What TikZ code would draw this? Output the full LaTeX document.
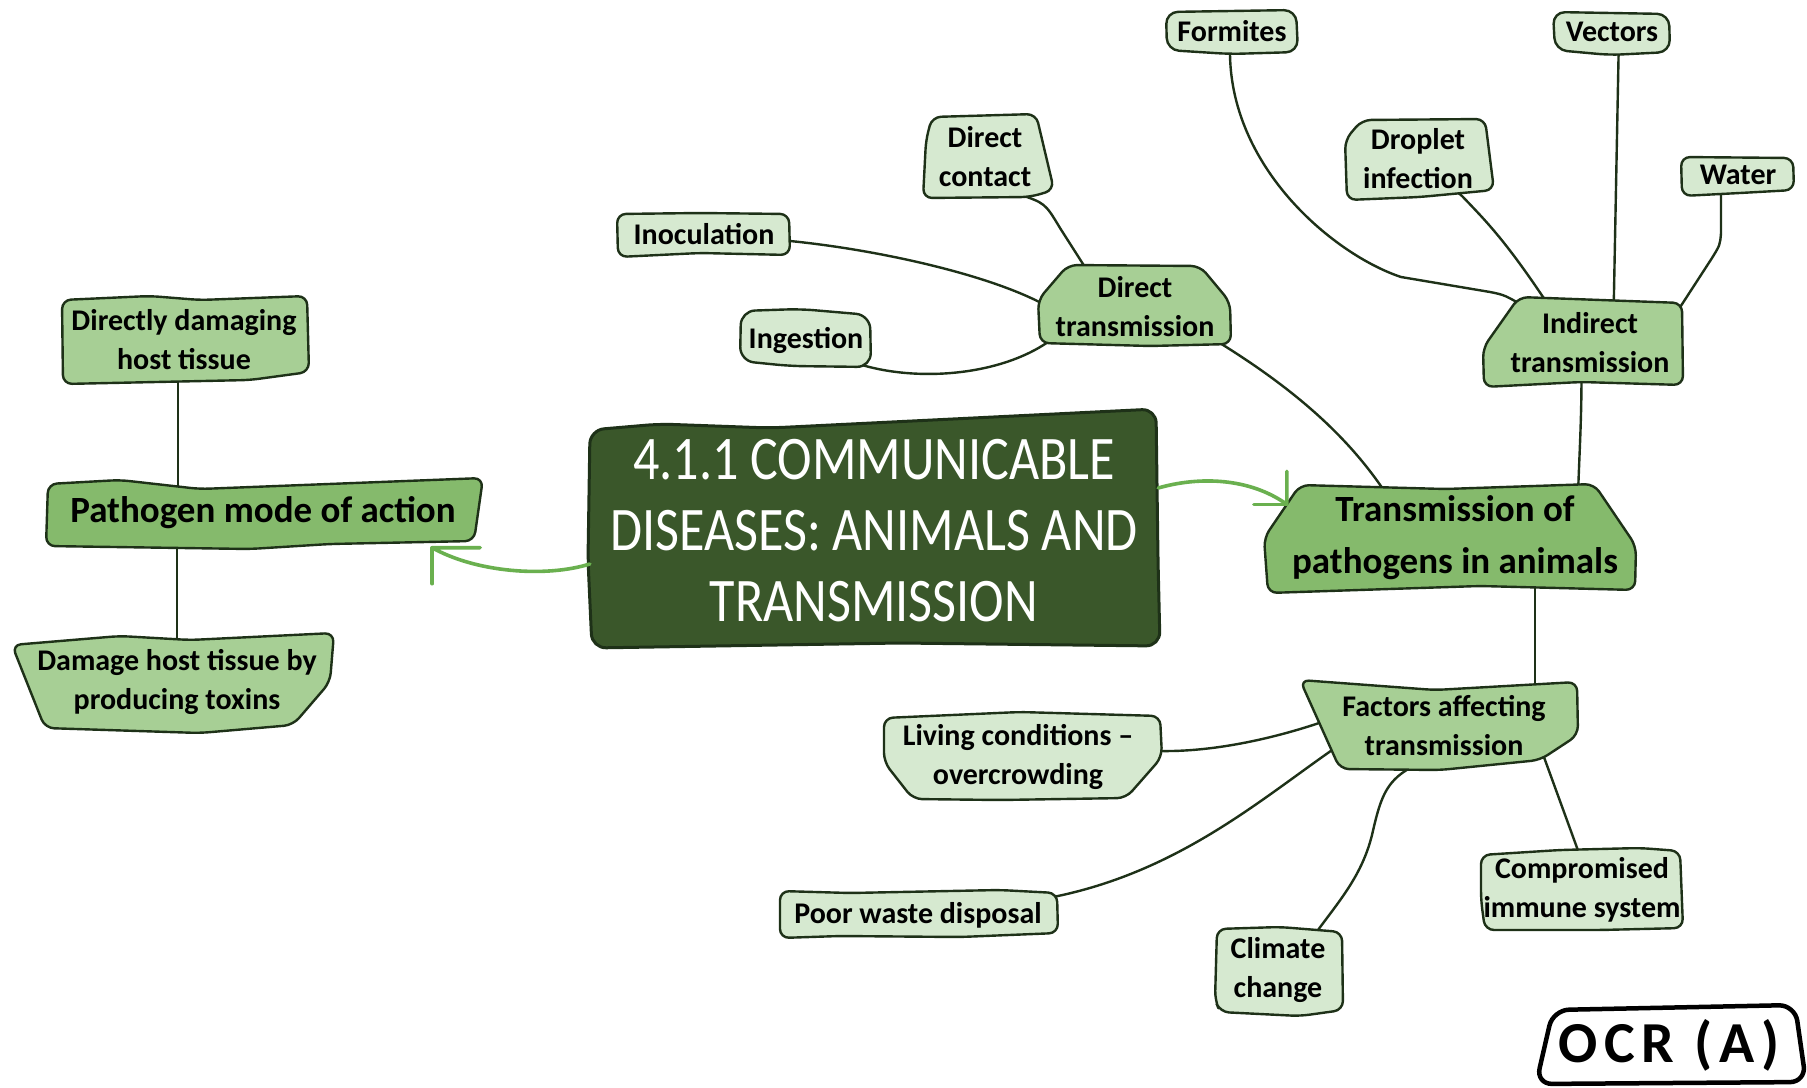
\documentclass[tikz,border=0pt]{standalone}
\usepackage{fontspec}
\setmainfont{Carlito}
\newfontfamily\titlefont[FakeStretch=0.84]{Carlito}
\usetikzlibrary{calc}
\definecolor{cdark}{HTML}{3A572A}
\definecolor{cmid}{HTML}{85BA6C}
\definecolor{clm}{HTML}{A7CF95}
\definecolor{clight}{HTML}{D6E9D0}
\definecolor{cline}{HTML}{1E3118}
\definecolor{carrow}{HTML}{6AB04F}
\pgfdeclarelayer{edges}
\pgfdeclarelayer{shapes}
\pgfsetlayers{edges,shapes,main}
\begin{document}
\begin{tikzpicture}[x=1pt,y=-1pt,
  shp/.style={draw=cline, line width=2.4pt, rounded corners=9pt, line join=round},
  conn/.style={draw=cline, line width=2.4pt, line cap=round, line join=round},
  arr/.style={draw=carrow, line width=3.6pt, line cap=round, line join=round},
  tn/.style={inner sep=0pt, align=center, text=black, font=\fontsize{30}{39}\selectfont\bfseries},
  big/.style={font=\fontsize{37}{52}\selectfont\bfseries},
]
\useasboundingbox (0,0) rectangle (1807,1087);
\begin{pgfonlayer}{edges}
\fill[white] (0,0) rectangle (1807,1087);
\end{pgfonlayer}

% ---------- nodes (text) ----------
\node[tn, text=white, font=\titlefont\fontsize{62}{71}\selectfont, minimum width=568pt, minimum height=238pt] (central) at (874,531) {4.1.1 COMMUNICABLE\\DISEASES: ANIMALS AND\\TRANSMISSION};
\node[tn, big, minimum width=372pt, minimum height=109pt] (tr) at (1455,538) {Transmission of\\pathogens in animals};
\node[tn, big, minimum width=438pt, minimum height=69pt] (pm) at (263,513) {Pathogen mode of action};
\node[tn, minimum width=248pt, minimum height=88pt] (dd) at (184,340) {Directly damaging\\host tissue};
\node[tn, minimum width=324pt, minimum height=101pt] (dh) at (177,682) {Damage host tissue by\\producing toxins};
\node[tn, minimum width=193pt, minimum height=84pt] (dtr) at (1135,307) {Direct\\transmission};
\node[tn, minimum width=132pt, minimum height=85pt] (dc) at (985,157) {Direct\\contact};
\node[tn, minimum width=174pt, minimum height=45pt] (ino) at (704,234) {Inoculation};
\node[tn, minimum width=133pt, minimum height=61pt] (ing) at (806,340) {Ingestion};
\node[tn, minimum width=203pt, minimum height=94pt] (ind) at (1590,343) {Indirect\\transmission};
\node[tn, minimum width=133pt, minimum height=46pt] (form) at (1232,31) {Formites};
\node[tn, minimum width=118pt, minimum height=45pt] (vec) at (1612,32) {Vectors};
\node[tn, minimum width=151pt, minimum height=81pt] (dro) at (1418,159) {Droplet\\infection};
\node[tn, minimum width=115pt, minimum height=43pt] (wat) at (1738,175) {Water};
\node[tn, minimum width=280pt, minimum height=94pt] (fac) at (1444,726) {Factors affecting\\transmission};
\node[tn, minimum width=280pt, minimum height=88pt] (liv) at (1018,757) {Living conditions –\\overcrowding};
\node[tn, minimum width=279pt, minimum height=49pt] (poor) at (918,915) {Poor waste disposal};
\node[tn, minimum width=129pt, minimum height=91pt] (cli) at (1278,970) {Climate\\change};
\node[tn, minimum width=203pt, minimum height=83pt] (com) at (1582,890) {Compromised\\immune system};
\node[tn, font=\fontsize{58}{70}\selectfont\bfseries, minimum width=271pt, minimum height=84pt] (ocr) at (1669,1045) {O\kern7pt C\kern7pt R\kern7pt\ (\kern7pt A\kern7pt )};

% ---------- shapes ----------
\begin{pgfonlayer}{shapes}
\path[shp, fill=cdark, line width=3pt, rounded corners=14pt] (590,430) -- (660,424) -- (770,428) -- (1156,409) -- (1158,560) -- (1160,646) -- (900,643) -- (592,648) -- (588,560) -- cycle;
\path[shp, fill=cmid] (1300,485) -- (1445,489) -- (1594,484) -- (1636,546) -- (1635,590) -- (1480,586) -- (1268,593) -- (1264,538) -- cycle;
\path[shp, fill=cmid] (48,484) -- (120,480) -- (200,489) -- (483,478) -- (474,541) -- (330,544) -- (250,549) -- (46,546) -- cycle;
\path[shp, fill=clm] (62,300) -- (150,296) -- (200,300) -- (307,296) -- (309,372) -- (250,380) -- (63,384) -- cycle;
\path[shp, fill=clm] (12,645) -- (120,636) -- (190,640) -- (334,633) -- (330,682) -- (293,725) -- (200,733) -- (45,728) -- cycle;
\path[shp, fill=clm] (1038,300) -- (1068,265) -- (1200,266) -- (1230,302) -- (1231,344) -- (1150,346) -- (1040,343) -- cycle;
\path[shp, fill=clight] (932,117) -- (1036,114) -- (1054,190) -- (1030,197) -- (923,198) -- (926,140) -- cycle;
\path[shp, fill=clight] (617,214) -- (700,213) -- (789,214) -- (790,255) -- (700,253) -- (618,257) -- cycle;
\path[shp, fill=clight, rounded corners=14pt] (741,311) -- (800,309) -- (870,315) -- (871,367) -- (790,366) -- (740,361) -- cycle;
\path[shp, fill=clm] (1519,297) -- (1682,303) -- (1683,385) -- (1581,382) -- (1484,387) -- (1483,348) -- cycle;
\path[shp, fill=clight, rounded corners=12pt] (1166,12) -- (1296,10) -- (1298,52) -- (1230,54) -- (1167,50) -- cycle;
\path[shp, fill=clight, rounded corners=12pt] (1553,12) -- (1669,14) -- (1670,52) -- (1610,55) -- (1555,50) -- cycle;
\path[shp, fill=clight] (1362,120) -- (1485,119) -- (1494,190) -- (1420,197) -- (1347,200) -- (1345,140) -- cycle;
\path[shp, fill=clight] (1681,157) -- (1793,158) -- (1794,190) -- (1740,193) -- (1682,196) -- cycle;
\path[shp, fill=clm] (1300,680) -- (1435,690) -- (1577,682) -- (1578,735) -- (1540,760) -- (1440,770) -- (1340,769) -- cycle;
\path[shp, fill=clight] (884,718) -- (1020,712) -- (1160,716) -- (1162,757) -- (1126,798) -- (1000,800) -- (913,799) -- (884,762) -- cycle;
\path[shp, fill=clight] (780,891) -- (850,893) -- (1000,890) -- (1057,893) -- (1058,933) -- (960,937) -- (840,936) -- (780,938) -- cycle;
\path[shp, fill=clight] (1217,929) -- (1280,927) -- (1342,932) -- (1343,1010) -- (1300,1016) -- (1220,1012) -- (1215,1000) -- cycle;
\path[shp, fill=clight] (1481,855) -- (1560,850) -- (1640,848) -- (1680,851) -- (1683,928) -- (1600,930) -- (1485,930) -- (1481,900) -- cycle;
\path[shp, fill=white, draw=black, line width=4.5pt, rounded corners=16pt] (1553,1010) -- (1795,1005) -- (1806,1082) -- (1536,1084) -- cycle;
\end{pgfonlayer}

% ---------- connectors ----------
\begin{pgfonlayer}{edges}
\draw[conn] ([xshift=-6pt]dd.center) -- ([xshift=-6pt]dd.center |- pm.center);
\draw[conn] (pm.center -| dh.center) -- (dh.center);
\draw[conn] (dtr.center) -- (1215,340) .. controls (1300,392) and (1350,440) .. (1385,492) -- (tr.center);
\draw[conn] (dc.center) -- (1018,194) .. controls (1045,203) .. (1060,228) -- (1090,275) -- (dtr.center);
\draw[conn] (ino.center) -- (790,241) .. controls (880,250) and (990,275) .. (1045,305) -- (dtr.center);
\draw[conn] (ing.center) -- (862,365) .. controls (920,382) and (1000,375) .. (1048,342) -- (dtr.center);
\draw[conn] ([xshift=-9pt]ind.center) .. controls (1583,420) and (1578,460) .. ([xshift=122pt]tr.center);
\draw[conn] (form.center) -- (1230,55) .. controls (1232,170) and (1335,255) .. (1401,277) -- (1490,292) .. controls (1505,295) .. (1530,310) -- (ind.center);
\draw[conn] (dro.center) -- (1462,196) .. controls (1485,220) and (1505,240) .. (1545,300) -- (ind.center);
\draw[conn] ([xshift=7pt]vec.center) -- ([xshift=23pt]ind.center);
\draw[conn] ([xshift=-17pt]wat.center) -- (1721,233) .. controls (1720,245) .. (1712,258) -- (1675,315) -- (ind.center);
\draw[conn] ([xshift=80pt]tr.center) -- ([xshift=80pt]tr.center |- fac.center);
\draw[conn] (fac.center) -- (1325,721) .. controls (1270,740) and (1210,752) .. (1160,751) -- (liv.center);
\draw[conn] (fac.center) -- (1335,748) .. controls (1260,800) and (1180,870) .. (1058,896) -- (poor.center);
\draw[conn] (fac.center) -- (1410,768) .. controls (1385,782) and (1380,800) .. (1372,835) .. controls (1362,875) and (1340,900) .. (1318,930) -- (cli.center);
\draw[conn] (fac.center) -- (1533,727) -- (1580,856) -- (com.center);
\end{pgfonlayer}

% ---------- arrows ----------
\draw[arr] ([yshift=-33pt]central.west) .. controls (545,578) and (475,572) .. ([xshift=-50pt]pm.south east) -- ++(48,0);
\draw[arr] ([xshift=-50pt]pm.south east) -- ++(0,36);
\draw[arr] ([yshift=43pt]central.east) .. controls (1200,476) and (1250,478) .. ([xshift=18pt,yshift=-21pt]tr.north west) -- ++(0,-33);
\draw[arr] ([xshift=18pt,yshift=-21pt]tr.north west) -- ++(-33,0);
\end{tikzpicture}
\end{document}
